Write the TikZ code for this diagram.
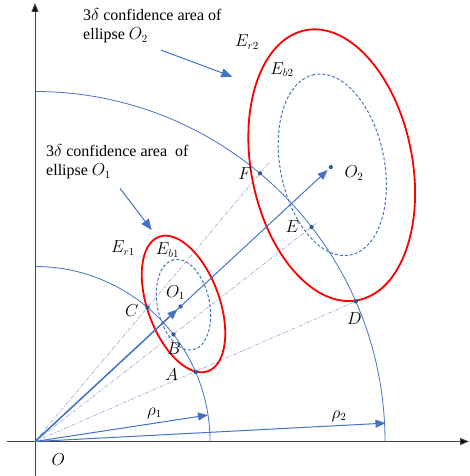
\documentclass[tikz,border=0pt]{standalone}
\usepackage{fontspec}
\setmainfont{Liberation Serif}
\usetikzlibrary{arrows.meta,calc}
\definecolor{obl}{HTML}{4472C4}
\definecolor{dotb}{HTML}{2F5597}
\definecolor{lbl}{HTML}{8FAADC}
\tikzset{
 axis/.style={line width=1pt, draw=black!75, -{Triangle[length=9pt,width=7pt,fill=black]}},
 arcline/.style={obl, line width=0.8pt},
 ray/.style={lbl, line width=0.6pt, dash pattern=on 4pt off 1.5pt on 1pt off 1.5pt},
 redell/.style={draw=red, line width=1.8pt},
 blueell/.style={draw=obl, line width=1pt, dash pattern=on 3pt off 2pt},
 vec/.style={obl, line width=1pt, -{Triangle[length=10pt,width=8pt]}},
 ptr/.style={obl, line width=1pt, -{Triangle[length=11pt,width=9pt]}},
 pt/.style={circle, fill=dotb, inner sep=0pt, minimum size=4.2pt},
 lab/.style={font=\fontsize{16}{19}\selectfont, inner sep=0pt},
 txt/.style={font=\fontsize{16}{19}\selectfont, align=left, inner sep=0pt},
}
\begin{document}
\begin{tikzpicture}[x=1pt,y=1pt]
\useasboundingbox (0,0) rectangle (469,476);
\coordinate (O) at (35,34.5);
% axes
\coordinate (ybot) at (35,0);
\coordinate (ytop) at (35,473);
\coordinate (xleft) at (7,34.5);
\coordinate (xright) at (469,34.5);
\draw[axis] (ybot) -- (ytop);
\draw[axis] (xleft) -- (xright);
% arcs
\coordinate (r1top) at ($(O)+(90:175)$);
\coordinate (r2top) at ($(O)+(90:350)$);
\draw[arcline] (r1top) arc[start angle=90, end angle=0, radius=175];
\draw[arcline] (r2top) arc[start angle=90, end angle=0, radius=350];
% rays
\coordinate (Dx) at ($(O)+(23.6:370)$);
\coordinate (Ex) at ($(O)+(37.8:360)$);
\coordinate (Fx) at ($(O)+(50:364)$);
\draw[ray] (O) -- (Dx);
\draw[ray] (O) -- (Ex);
\draw[ray] (O) -- (Fx);
% ellipses
\draw[redell, rotate around={110:(183.5,172)}] (183.5,172) ellipse [x radius=71.5, y radius=36];
\draw[blueell, rotate around={102:(183.5,171.3)}] (183.5,171.3) ellipse [x radius=46, y radius=26];
\draw[redell, rotate around={101:(331.7,310.8)}] (331.7,310.8) ellipse [x radius=137.5, y radius=80.6];
\draw[blueell, rotate around={101.3:(332.3,311.2)}] (332.3,311.2) ellipse [x radius=92, y radius=52];
% points
\node[pt] (O1) at ($(O)+(42.85:198.5)$) {};
\node[pt] (O2) at ($(O)+(42.85:403.5)$) {};
\node[pt] (A) at ($(O)+(23.4:175)$) {};
\node[pt] (B) at ($(O)+(37.7:175)$) {};
\node[pt] (C) at ($(O)+(50:175)$) {};
\node[pt] (D) at ($(O)+(23.6:350)$) {};
\node[pt] (E) at ($(O)+(37.8:350)$) {};
\node[pt] (F) at ($(O)+(50:350)$) {};
% vectors
\draw[vec, shorten >=2pt] (O) -- (O2);
\draw[vec, line width=1.4pt, shorten >=2pt] (O) -- (O1);
\coordinate (p1) at ($(O)+(8.7:175)$);
\coordinate (p2) at ($(O)+(3:351)$);
\draw[vec] (O) -- (p1);
\draw[vec] (O) -- (p2);
% labels
\node[lab] (lO) at (58.3,16.7) {$O$};
\node[lab] (lrho1) at (154.5,62.7) {$\rho_1$};
\node[lab] (lrho2) at (339,59.7) {$\rho_2$};
\node[lab] (lA) at (171.7,101.7) {$A$};
\node[lab] (lB) at (174,127.7) {$B$};
\node[lab] (lC) at (131.7,165) {$C$};
\node[lab] (lD) at (354.3,157.7) {$D$};
\node[lab] (lE) at (292.3,249.3) {$E$};
\node[lab] (lF) at (245,302.7) {$F$};
\node[lab] (lO1) at (175.5,183.5) {$O_1$};
\node[lab] (lO2) at (354,302.7) {$O_2$};
\node[lab] (lEr1) at (123,228) {$E_{r1}$};
\node[lab] (lEb1) at (167.5,226) {$E_{b1}$};
\node[lab] (lEr2) at (247,433.7) {$E_{r2}$};
\node[lab] (lEb2) at (282,406.5) {$E_{b2}$};
% texts and pointers
\node[txt, anchor=west] (t2) at (83,450) {3$\delta$ confidence area of\\ellipse $O_2$};
\node[txt, anchor=west] (t1) at (46,314) {3$\delta$ confidence area\ \ of\\ellipse $O_1$};
\coordinate (s2) at (160.7,426);
\coordinate (e2) at (232.3,399.3);
\coordinate (s1) at (120,287.7);
\coordinate (e1) at (151.7,246);
\draw[ptr] (s2) -- (e2);
\draw[ptr] (s1) -- (e1);
\end{tikzpicture}
\end{document}
